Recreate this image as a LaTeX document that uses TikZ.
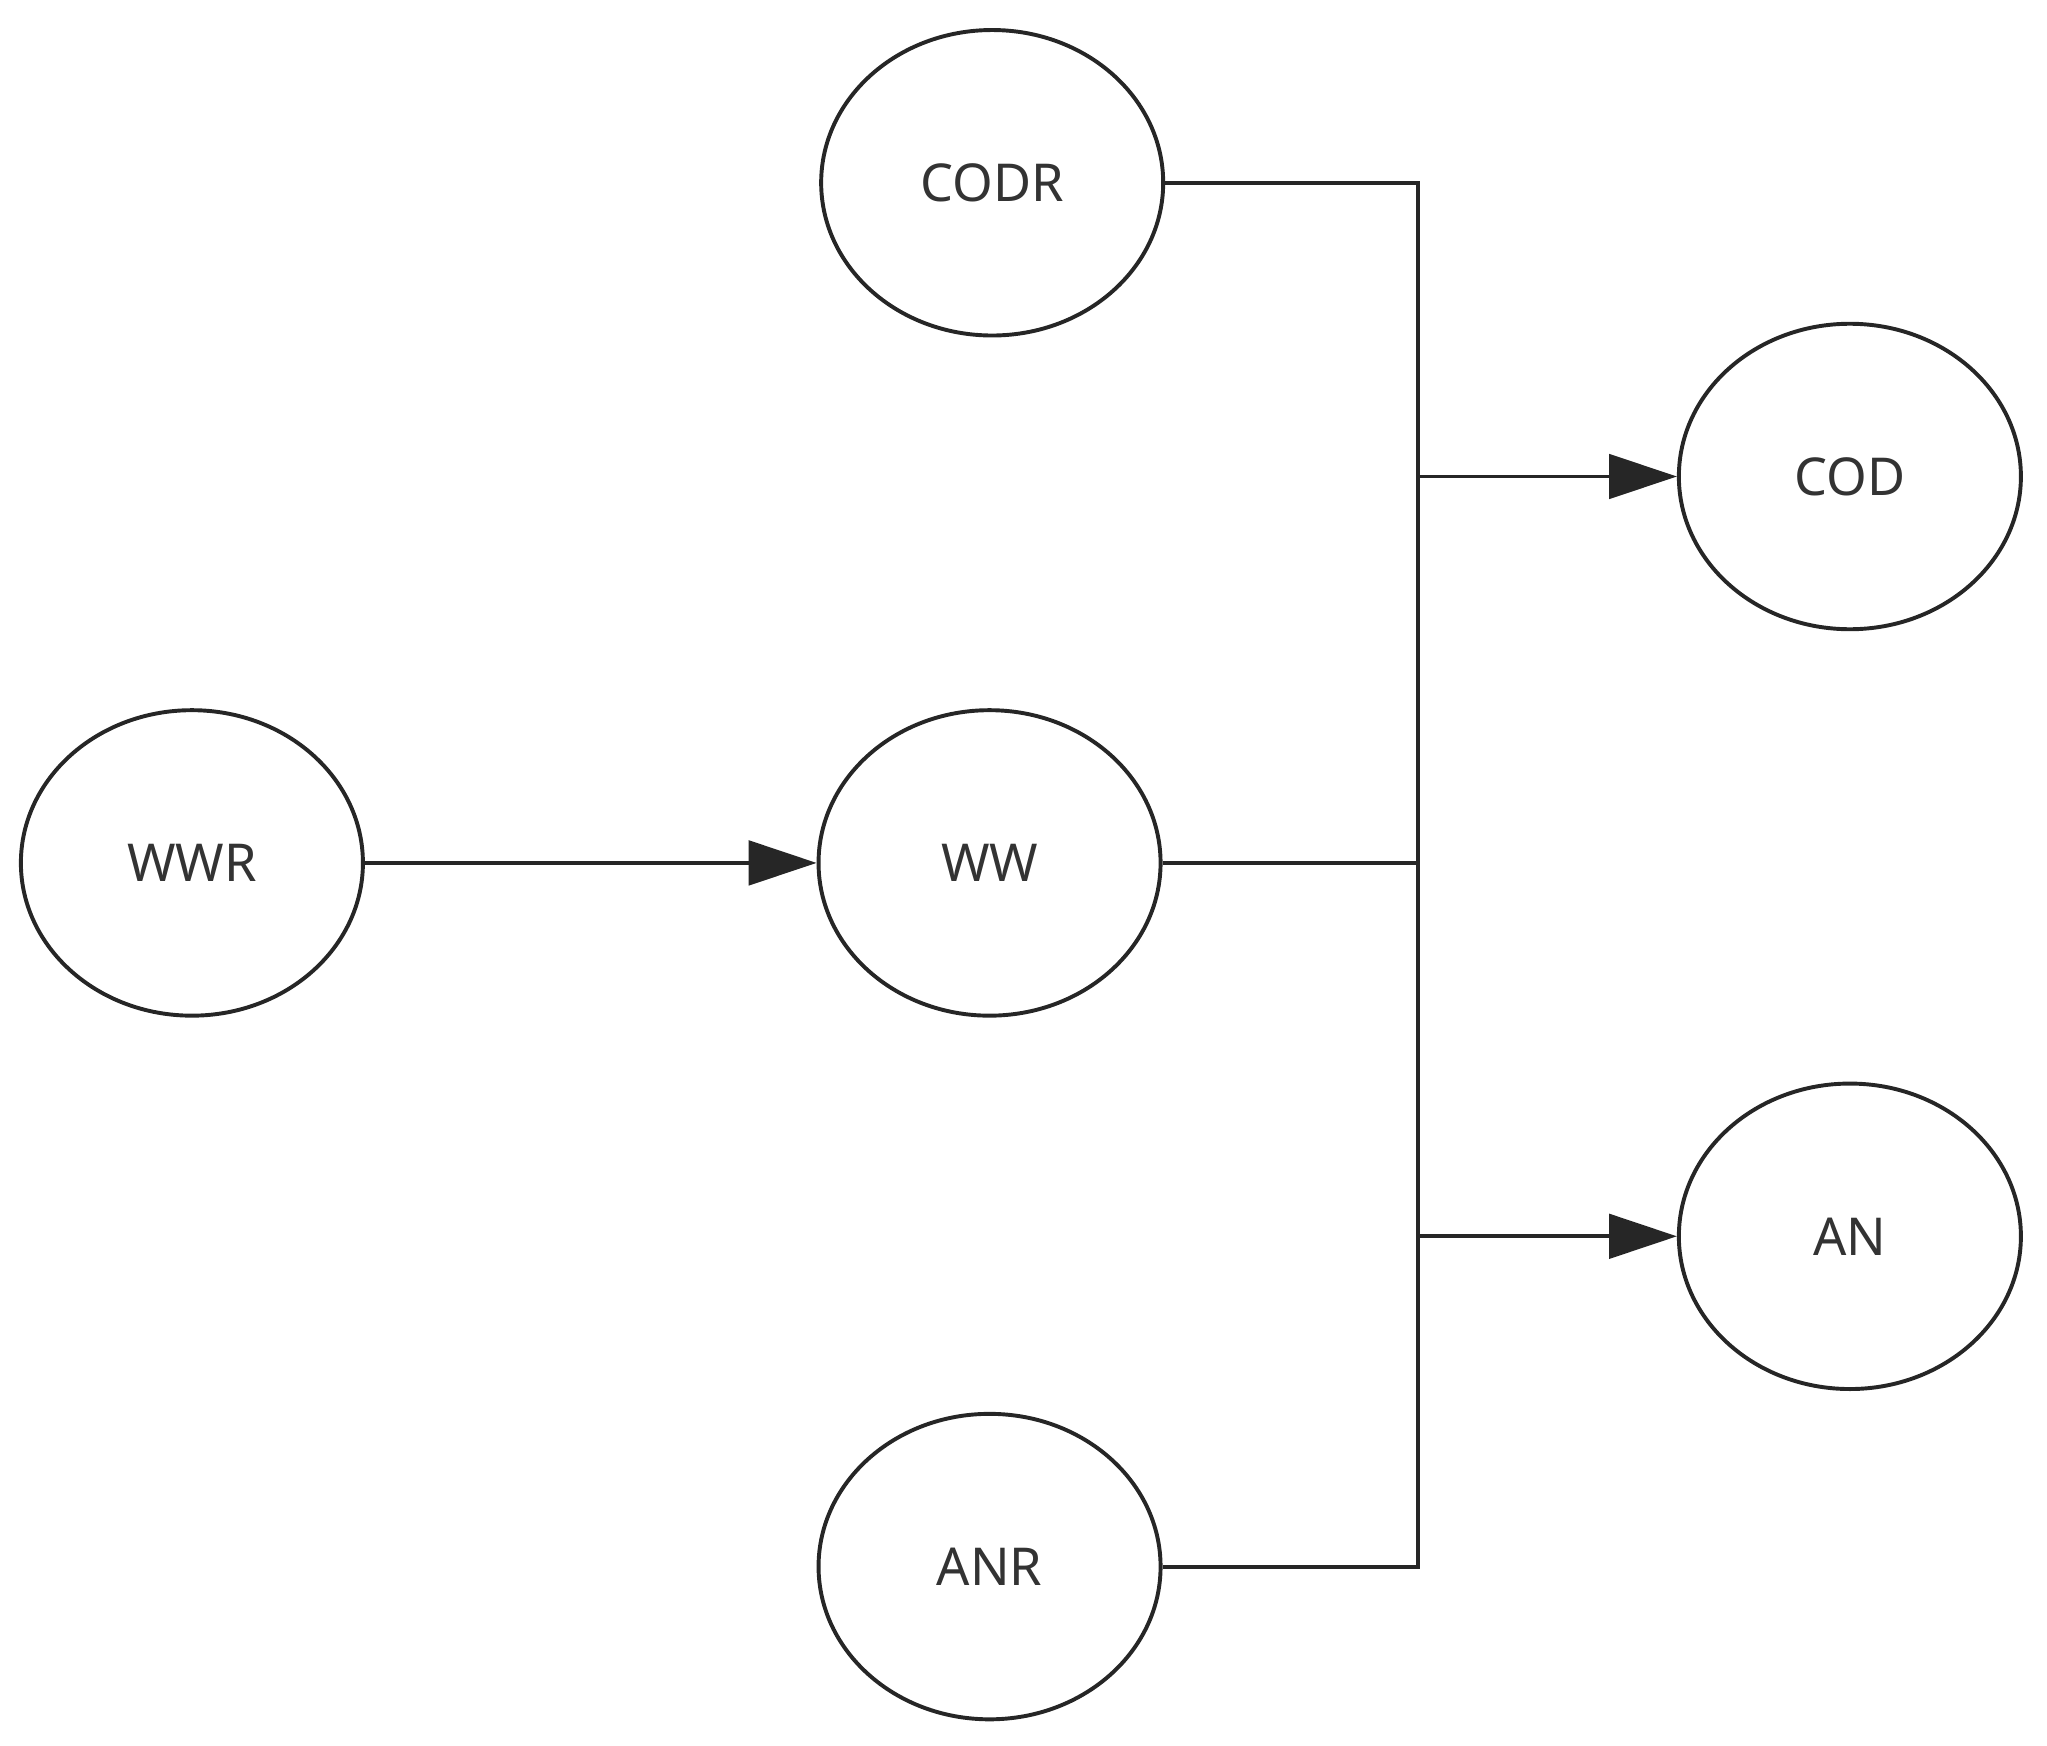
\documentclass[tikz,border=0pt]{standalone}
\usepackage{fontspec}
\setmainfont{Noto Sans}
\usetikzlibrary{shapes.geometric,arrows.meta}
\begin{document}
\begin{tikzpicture}[x=1pt,y=-1pt,
  el/.style={draw=black!85,line width=3pt,ellipse,minimum width=262pt,minimum height=234pt,inner sep=0pt,font=\fontsize{40}{48}\selectfont,text=black!80},
  ln/.style={draw=black!85,line width=3pt},
  ar/.style={ln,-{Triangle[length=52pt,width=34pt]}}]
\useasboundingbox (0,0) rectangle (1568,1337);
\node[el] (codr) at (760,140) {CODR};
\node[el] (cod) at (1417,365) {COD};
\node[el] (wwr) at (147,661) {WWR};
\node[el] (ww) at (758,661) {WW};
\node[el] (an) at (1417,947) {AN};
\node[el] (anr) at (758,1200) {ANR};
\coordinate (t) at (1086,140);
\coordinate (b) at (1086,1200);
\coordinate (j1) at (1086,365);
\coordinate (j2) at (1086,947);
\coordinate (j3) at (1086,661);
\draw[ln] (codr.east) -- (t) -- (b) -- (anr.east);
\draw[ln] (ww.east) -- (j3);
\draw[ar] (j1) -- (cod.west);
\draw[ar] (j2) -- (an.west);
\draw[ar] (wwr.east) -- (ww.west);
\end{tikzpicture}
\end{document}
